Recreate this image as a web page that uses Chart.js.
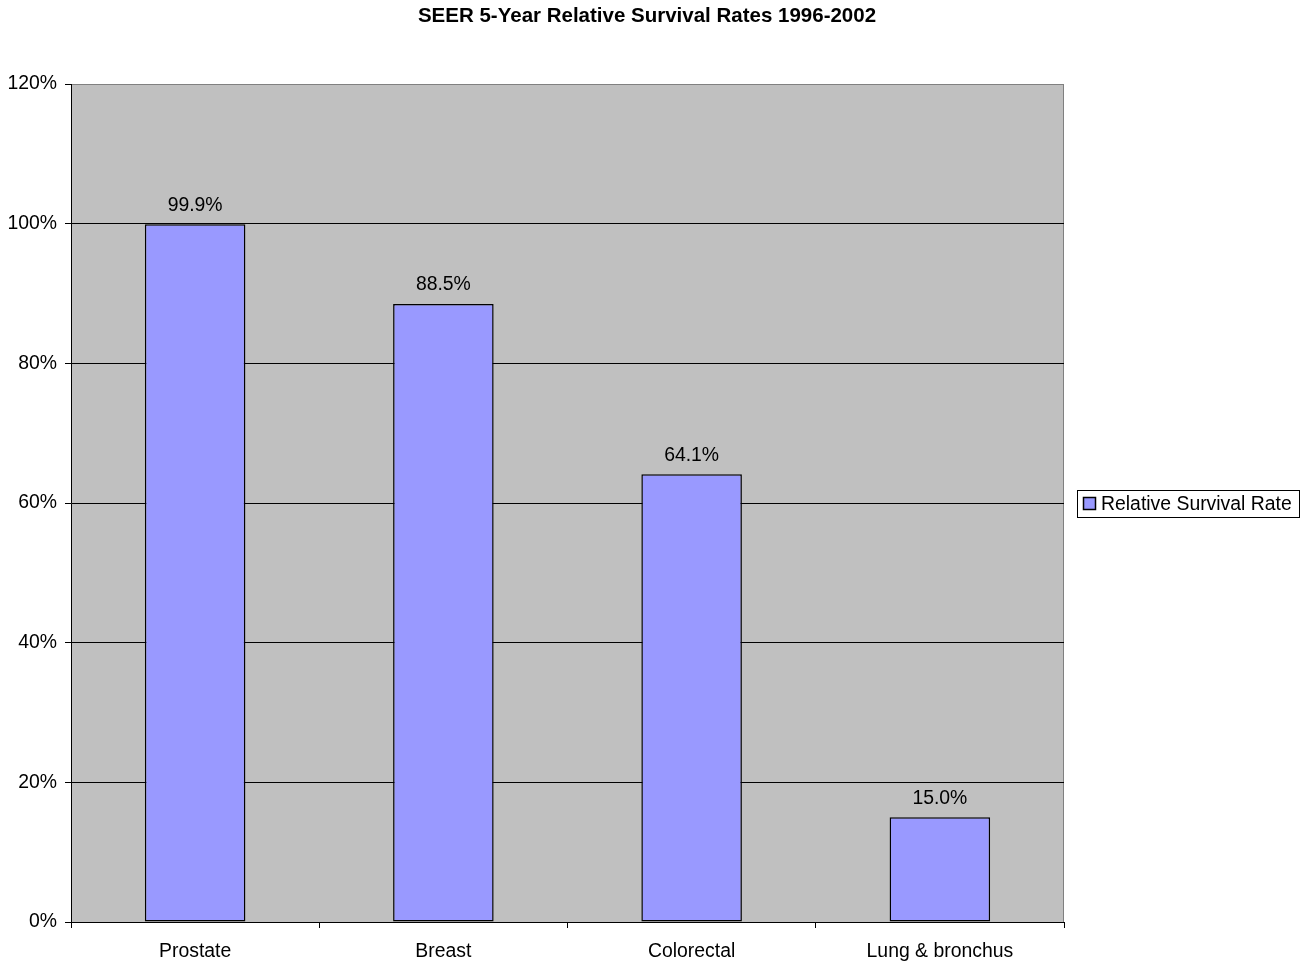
<!DOCTYPE html>
<html>
<head>
<meta charset="utf-8">
<script src="https://cdn.jsdelivr.net/npm/chart.js@4/dist/chart.umd.min.js"></script>
<style>
  html, body { margin: 0; padding: 0; background: #fff; }
  #wrap { width: 1308px; height: 961px; }
</style>
</head>
<body>
<div id="wrap"><canvas id="myChart"></canvas></div>
<script>
// Data
const categories = ['Prostate', 'Breast', 'Colorectal', 'Lung & bronchus'];
const survivalRates = [99.9, 88.5, 64.1, 15.0];
const seriesName = 'Relative Survival Rate';
const chartTitle = 'SEER 5-Year Relative Survival Rates 1996-2002';

const FONT = 'Arial, "Liberation Sans", sans-serif';
const FSIZE = 19.4;

// plot area background + border
const plotBg = {
  id: 'plotBg',
  beforeDraw(chart) {
    const { ctx, chartArea: a } = chart;
    ctx.save();
    ctx.fillStyle = '#C0C0C0';
    ctx.fillRect(a.left, a.top, a.right - a.left, a.bottom - a.top);
    ctx.strokeStyle = '#808080';
    ctx.lineWidth = 1;
    ctx.strokeRect(a.left + 0.5, a.top + 0.5, a.right - a.left - 1, a.bottom - a.top);
    ctx.restore();
  }
};

// title centred on the whole page
const pageTitle = {
  id: 'pageTitle',
  afterDraw(chart) {
    const { ctx } = chart;
    ctx.save();
    ctx.font = 'bold 20.5px ' + FONT;
    ctx.fillStyle = '#000';
    ctx.textAlign = 'center';
    ctx.textBaseline = 'middle';
    ctx.fillText(chartTitle, 647, 16);
    ctx.restore();
  }
};

// value labels above bars
const valueLabels = {
  id: 'valueLabels',
  afterDatasetsDraw(chart) {
    const { ctx } = chart;
    const meta = chart.getDatasetMeta(0);
    ctx.save();
    ctx.font = FSIZE + 'px ' + FONT;
    ctx.fillStyle = '#000';
    ctx.textAlign = 'center';
    ctx.textBaseline = 'middle';
    meta.data.forEach((bar, i) => {
      ctx.fillText(survivalRates[i].toFixed(1) + '%', bar.x, bar.y - 19);
    });
    ctx.restore();
  }
};

// boxed legend on the right
const boxLegend = {
  id: 'boxLegend',
  afterDraw(chart) {
    const { ctx } = chart;
    const ds = chart.data.datasets[0];
    const x = 1077, y = 490, w = 222, h = 27;
    ctx.save();
    ctx.fillStyle = '#fff';
    ctx.fillRect(x, y, w, h);
    ctx.strokeStyle = '#000';
    ctx.lineWidth = 1;
    ctx.strokeRect(x + 0.5, y + 0.5, w, h);
    ctx.fillStyle = ds.backgroundColor;
    ctx.fillRect(x + 6.5, y + 7.5, 12, 12);
    ctx.lineWidth = 1.5;
    ctx.strokeRect(x + 6.5, y + 7.5, 12, 12);
    ctx.fillStyle = '#000';
    ctx.font = FSIZE + 'px ' + FONT;
    ctx.textBaseline = 'middle';
    ctx.fillText(ds.label, x + 24, y + 14.5);
    ctx.restore();
  }
};

const ctx = document.getElementById('myChart').getContext('2d');
const survivalChart = new Chart(ctx, {
  type: 'bar',
  data: {
    labels: categories,
    datasets: [
      {
        label: seriesName,
        data: survivalRates,
        backgroundColor: '#9999FF',
        borderColor: '#000',
        borderWidth: 1.5,
        borderSkipped: false,
        barPercentage: 0.405,
        categoryPercentage: 1.0,
      },
    ],
  },
  options: {
    responsive: true,
    maintainAspectRatio: false,
    animation: false,
    layout: {
      padding: { left: 0, right: 244, top: 84, bottom: 0 },
    },
    plugins: {
      legend: { display: false },
      tooltip: { enabled: false },
      title: { display: false },
    },
    scales: {
      x: {
        offset: true,
        grid: {
          offset: true,
          drawOnChartArea: false,
          drawTicks: true,
          tickLength: 6,
          tickColor: '#000',
          color: '#000',
        },
        border: { color: '#000', width: 1 },
        ticks: {
          color: '#000',
          padding: 12,
          maxRotation: 0,
          font: { family: FONT, size: FSIZE },
        },
        afterFit(scale) { scale.height = 39; },
      },
      y: {
        min: 0,
        max: 120,
        ticks: {
          stepSize: 20,
          color: '#000',
          padding: 8,
          font: { family: FONT, size: FSIZE },
          callback: (v) => v + '%',
        },
        grid: {
          tickLength: 6,
          tickColor: '#000',
          color: (c) => (c.tick && c.tick.value === 120 ? '#808080' : '#000'),
        },
        border: { color: '#000', width: 1 },
        afterFit(scale) { scale.width = 71; },
      },
    },
  },
  plugins: [plotBg, valueLabels, boxLegend, pageTitle],
});
</script>
</body>
</html>
